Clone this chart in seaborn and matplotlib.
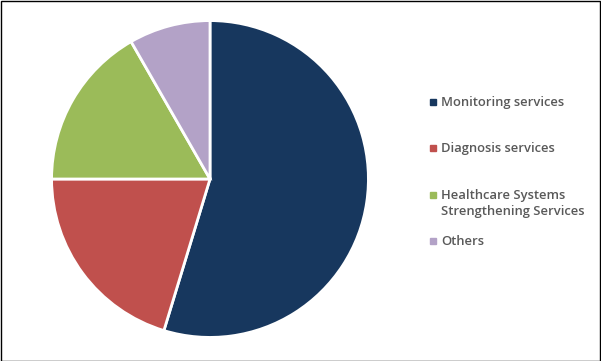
import matplotlib
matplotlib.use('Agg')
import matplotlib.pyplot as plt
import seaborn as sns
from matplotlib.patches import Rectangle

sns.set_style('white')
plt.rcParams['font.family'] = ['Open Sans', 'DejaVu Sans']

# Share of segments
labels = ['Monitoring services', 'Diagnosis services',
          'Healthcare Systems\nStrengthening Services', 'Others']
shares = [54.7, 20.3, 16.7, 8.3]
colors = ['#17375E', '#C0504D', '#9BBB59', '#B3A2C7']

fig = plt.figure(figsize=(6.01, 3.61), dpi=100)
ax = fig.add_axes([50 / 601, 22 / 361, 320 / 601, 320 / 361])
ax.pie(shares, colors=colors, startangle=90, counterclock=False,
       wedgeprops={'edgecolor': 'white', 'linewidth': 2})
ax.set_xlim(-1.01, 1.01)
ax.set_ylim(-1.01, 1.01)
ax.set_aspect('equal')

# legend drawn by hand, Excel style
legend_y = [102, 148, 195, 241]
for lab, col, y in zip(labels, colors, legend_y):
    fig.patches.append(Rectangle((430 / 601, 1 - (y + 3) / 361), 6 / 601, 6 / 361,
                                 transform=fig.transFigure, color=col))
    fig.text(441 / 601, 1 - (y - 6) / 361, lab, ha='left', va='top',
             fontsize=9.4, fontweight='semibold', color='#595959', linespacing=1.25)

# thin frame around the chart
fig.patches.append(Rectangle((0.5 / 601, 0.5 / 361), 1 - 1.5 / 601, 1 - 1.5 / 361,
                             transform=fig.transFigure, fill=False,
                             edgecolor='black', linewidth=1))

fig.savefig('out.png', dpi=100)
